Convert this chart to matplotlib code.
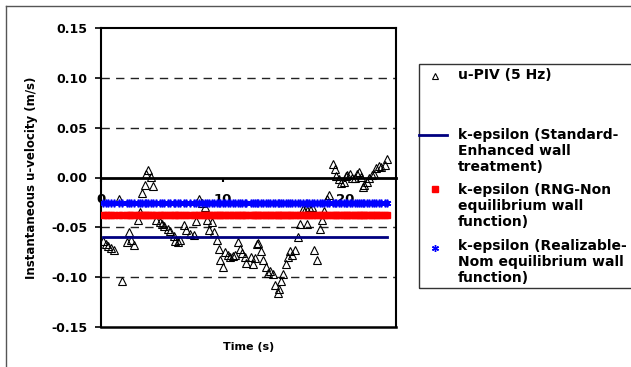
import matplotlib
matplotlib.use('Agg')
import matplotlib.pyplot as plt
from matplotlib.lines import Line2D
from matplotlib.patches import Rectangle

# ---------------- data ----------------
piv_t = [0.2, 0.4, 0.6, 0.8, 1.1, 1.5, 1.7, 2.1, 2.3, 2.5, 2.7, 3.0, 3.2, 3.4,
         3.6, 3.7, 3.85, 4.1, 4.3, 4.5, 4.8, 5.0, 5.2, 5.5, 5.7, 6.0, 6.1, 6.3,
         6.5, 6.8, 7.0, 7.3, 7.6, 7.8, 8.0, 8.3, 8.5, 8.7, 8.9, 9.1, 9.3, 9.5,
         9.7, 9.8, 10.0, 10.2, 10.4, 10.6, 10.8, 11.0, 11.25, 11.4, 11.6, 11.8,
         11.9, 12.3, 12.5, 12.6, 12.8, 12.9, 13.1, 13.3, 13.5, 13.7, 13.9, 14.1,
         14.3, 14.5, 14.6, 14.8, 14.95, 15.2, 15.35, 15.5, 15.7, 15.9, 16.2,
         16.3, 16.6, 16.8, 16.9, 17.1, 17.3, 17.5, 17.7, 17.95, 18.1, 18.3,
         18.5, 18.7, 19.0, 19.2, 19.3, 19.5, 19.7, 19.9, 20.1, 20.2, 20.4, 20.6,
         20.8, 21.0, 21.2, 21.3, 21.5, 21.6, 21.8, 22.0, 22.2, 22.4, 22.6, 22.8,
         23.0, 23.3, 23.5]
piv_u = [-0.064, -0.067, -0.069, -0.071, -0.073, -0.022, -0.104, -0.065,
         -0.055, -0.063, -0.068, -0.043, -0.035, -0.016, -0.008, 0.004, 0.008,
         0.001, -0.009, -0.043, -0.045, -0.047, -0.049, -0.052, -0.054, -0.059,
         -0.064, -0.065, -0.063, -0.048, -0.053, -0.057, -0.058, -0.044, -0.022,
         -0.026, -0.030, -0.043, -0.053, -0.045, -0.055, -0.063, -0.072, -0.083,
         -0.090, -0.075, -0.078, -0.080, -0.079, -0.078, -0.065, -0.072, -0.076,
         -0.080, -0.086, -0.080, -0.087, -0.081, -0.067, -0.066, -0.074, -0.083,
         -0.090, -0.096, -0.094, -0.097, -0.108, -0.116, -0.112, -0.104, -0.097,
         -0.087, -0.080, -0.074, -0.078, -0.073, -0.060, -0.047, -0.032, -0.031,
         -0.047, -0.030, -0.030, -0.073, -0.083, -0.052, -0.043, -0.034, -0.022,
         -0.018, 0.014, 0.009, 0.002, -0.002, -0.006, -0.005, 0.002, 0.003,
         0.004, -0.001, -0.001, 0.004, 0.006, 0.001, -0.010, -0.008, -0.005,
         -0.001, 0.003, 0.004, 0.010, 0.012, 0.011, 0.013, 0.019]

std_u = -0.060    # k-epsilon (Standard-Enhanced wall treatment)
rng_u = -0.0375   # k-epsilon (RNG-Non equilibrium wall function)
real_u = -0.026   # k-epsilon (Realizable-Nom equilibrium wall function)

y_ticks = [-0.15, -0.10, -0.05, 0.00, 0.05, 0.10, 0.15]
y_tick_labels = ['-0.15', '-0.10', '-0.05', '0.00', '0.05', '0.10', '0.15']
x_ticks = [0, 10, 20]
x_tick_labels = ['0', '10', '20']
grid_y = [-0.10, -0.05, 0.05, 0.10]

legend_labels = ['u-PIV (5 Hz)',
                 'k-epsilon (Standard-\nEnhanced wall\ntreatment)',
                 'k-epsilon (RNG-Non\nequilibrium wall\nfunction)',
                 'k-epsilon (Realizable-\nNom equilibrium wall\nfunction)']

# ---------------- figure ----------------
W, H = 631, 367
plt.rcParams['font.family'] = ['DejaVu Sans']
plt.rcParams['font.weight'] = 'bold'
fig = plt.figure(figsize=(W / 100, H / 100), dpi=100)


def fx(px):
    return px / W


def fy(py):
    return 1 - py / H


ax = fig.add_axes([fx(101), fy(326.7), fx(396) - fx(101), fy(28.3) - fy(326.7)])
ax.set_xlim(0, 24.2)
ax.set_ylim(-0.15, 0.15)

for g in grid_y:
    ax.axhline(g, color='#222222', lw=1.0, dashes=(6, 4.5), zorder=1)

# PIV data
ax.plot(piv_t, piv_u, linestyle='none', marker='^', ms=6, mfc='none',
        mec='black', mew=0.8, zorder=3)

# model results (constant values along the time axis)
ax.plot(piv_t, [std_u] * len(piv_t), color='#000080', lw=2.0, zorder=4)
ax.plot(piv_t, [rng_u] * len(piv_t), color='#FF0000', lw=3.5,
        solid_capstyle='butt', marker='s', ms=4, mec='#FF0000', mfc='#FF0000',
        zorder=4)
ax.plot(piv_t, [real_u] * len(piv_t), color='#3030FF', lw=3.4,
        solid_capstyle='butt', zorder=4)
ax.plot(piv_t, [real_u] * len(piv_t), color='#0000FF', lw=3.0,
        linestyle='none', marker=(6, 2, 0), ms=5.5, mew=1.2, mec='#0000FF',
        zorder=4)

# axes styling
ax.spines['bottom'].set_position(('data', 0))
ax.spines['bottom'].set_linewidth(2.0)
for s in ['left', 'right', 'top']:
    ax.spines[s].set_linewidth(1.5)
ax.axhline(-0.15, color='black', lw=1.8, clip_on=False, zorder=5)

ax.set_yticks(y_ticks)
ax.set_yticklabels(y_tick_labels, fontsize=9, fontweight='bold')
ax.set_xticks(x_ticks)
ax.set_xticklabels(x_tick_labels, fontsize=9.5, fontweight='bold')
ax.tick_params(axis='y', direction='out', length=4, width=1.2, pad=6)
ax.tick_params(axis='x', direction='out', length=3, width=1.5, pad=8)

ax.set_ylabel('Instantaneous u-velocity (m/s)', fontsize=8.5, fontweight='bold')
ax.yaxis.set_label_coords(-0.215, 0.5)
ax.set_xlabel('Time (s)', fontsize=8, fontweight='bold')
ax.xaxis.set_label_coords(0.5, -0.05)

# outer chart frame
fig.add_artist(Line2D([fx(5.5), fx(5.5)], [0, fy(5.5)], transform=fig.transFigure,
                      color='#555555', lw=1.0))
fig.add_artist(Line2D([fx(5.5), 1], [fy(5.5), fy(5.5)], transform=fig.transFigure,
                      color='#555555', lw=1.0))

# legend box (drawn manually to reproduce layout)
fig.add_artist(Rectangle((fx(419), fy(288)), fx(640) - fx(419), fy(64) - fy(288),
                         transform=fig.transFigure, fill=False,
                         edgecolor='#333333', lw=1.0))
text_x = fx(458)
fig.add_artist(Line2D([fx(435)], [fy(76)], transform=fig.transFigure,
                      linestyle='none', marker='^', ms=4.5, mfc='none',
                      mec='black', mew=0.8))
fig.text(text_x, fy(75), legend_labels[0], fontsize=10, fontweight='bold',
         va='center', ha='left')

fig.add_artist(Line2D([fx(419), fx(447)], [fy(135), fy(135)],
                      transform=fig.transFigure, color='#000080', lw=2.0))
fig.text(text_x, fy(151), legend_labels[1], fontsize=10, fontweight='bold',
         va='center', ha='left')

fig.add_artist(Line2D([fx(435)], [fy(189)], transform=fig.transFigure,
                      linestyle='none', marker='s', ms=4, mfc='#FF0000',
                      mec='#FF0000'))
fig.text(text_x, fy(206), legend_labels[2], fontsize=10, fontweight='bold',
         va='center', ha='left')

fig.add_artist(Line2D([fx(435)], [fy(248)], transform=fig.transFigure,
                      linestyle='none', marker=(6, 2, 0), ms=5, mew=1.0,
                      mec='#0000FF'))
fig.text(text_x, fy(262), legend_labels[3], fontsize=10, fontweight='bold',
         va='center', ha='left')

fig.savefig('out.png', dpi=100)
